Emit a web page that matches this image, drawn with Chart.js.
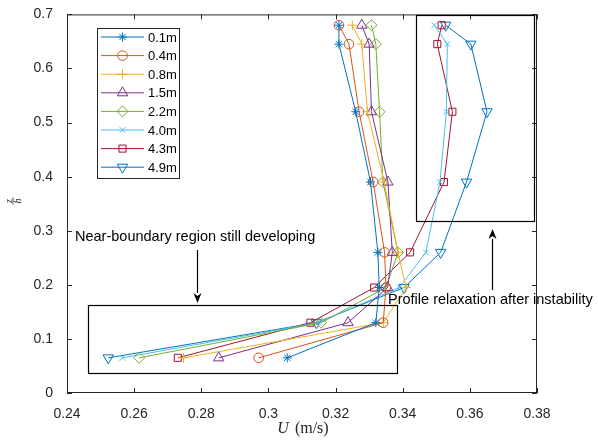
<!DOCTYPE html>
<html>
<head>
<meta charset="utf-8">
<script src="https://cdn.jsdelivr.net/npm/chart.js@4"></script>
<style>
    body { margin: 0; background: #ffffff; }
    #chart { display: block; }
</style>
</head>
<body>
<canvas id="chart" width="598" height="442"></canvas>
<script>
// Heights z/h at which each profile was measured (bottom to top)
const heights = [0.065, 0.13, 0.195, 0.26, 0.39, 0.52, 0.645, 0.68];

// Streamwise positions (legend entries)
const positions = ['0.1m', '0.4m', '0.8m', '1.5m', '2.2m', '4.0m', '4.3m', '4.9m'];

// Velocity U (m/s), one array per position
const u_0_1 = [0.3056, 0.3320, 0.3330, 0.3326, 0.3304, 0.3260, 0.3210, 0.3210];
const u_0_4 = [0.2971, 0.3342, 0.3350, 0.3346, 0.3312, 0.3270, 0.3240, 0.3210];
const u_0_8 = [0.2747, 0.3342, 0.3410, 0.3386, 0.3345, 0.3295, 0.3278, 0.3250];
const u_1_5 = [0.2852, 0.3237, 0.3355, 0.3369, 0.3356, 0.3307, 0.3300, 0.3278];
const u_2_2 = [0.2615, 0.3157, 0.3350, 0.3386, 0.3341, 0.3331, 0.3320, 0.3307];
const u_4_0 = [0.2565, 0.3148, 0.3390, 0.3469, 0.3511, 0.3530, 0.3533, 0.3494];
const u_4_3 = [0.2730, 0.3125, 0.3315, 0.3422, 0.3523, 0.3548, 0.3503, 0.3516];
const u_4_9 = [0.2523, 0.3143, 0.3404, 0.3513, 0.3590, 0.3651, 0.3603, 0.3528];

const xTicks = [0.24, 0.26, 0.28, 0.30, 0.32, 0.34, 0.36, 0.38];
const xTickLabels = ['0.24', '0.26', '0.28', '0.3', '0.32', '0.34', '0.36', '0.38'];
const yTicks = [0, 0.1, 0.2, 0.3, 0.4, 0.5, 0.6, 0.7];
const yTickLabels = ['0', '0.1', '0.2', '0.3', '0.4', '0.5', '0.6', '0.7'];

const annotationLeft = 'Near-boundary region still developing';
const annotationRight = 'Profile relaxation after instability';

// MATLAB default colour order and marker per series
const colors = ['#0072BD', '#D95319', '#EDB120', '#7E2F8E', '#77AC30', '#4DBEEE', '#A2142F', '#0072BD'];
const markers = [
    { style: 'star', radius: 4.5, rotation: 0 },
    { style: 'circle', radius: 4.8, rotation: 0 },
    { style: 'cross', radius: 5, rotation: 0 },
    { style: 'triangle', radius: 6, rotation: 0 },
    { style: 'rectRot', radius: 5.5, rotation: 0 },
    { style: 'crossRot', radius: 4, rotation: 0 },
    { style: 'rect', radius: 5, rotation: 0 },
    { style: 'triangle', radius: 6, rotation: 180 }
];
const series = [u_0_1, u_0_4, u_0_8, u_1_5, u_2_2, u_4_0, u_4_3, u_4_9];

const axisColor = '#262626';
const sansFont = '"Liberation Sans", Arial, sans-serif';
const serifFont = '"Liberation Serif", "Times New Roman", serif';

const datasets = series.map((values, i) => ({
    label: positions[i],
    data: values.map((u, k) => ({ x: u, y: heights[k] })),
    showLine: true,
    borderColor: colors[i],
    borderWidth: 1,
    backgroundColor: 'transparent',
    pointStyle: markers[i].style,
    pointRadius: markers[i].radius,
    pointRotation: markers[i].rotation,
    pointBorderColor: colors[i],
    pointBackgroundColor: 'transparent',
    pointBorderWidth: 1,
    tension: 0
}));

function drawMarker(ctx, m, color, x, y) {
    ctx.save();
    ctx.strokeStyle = color;
    ctx.fillStyle = 'transparent';
    ctx.lineWidth = 1;
    Chart.helpers.drawPoint(ctx, { pointStyle: m.style, radius: m.radius, rotation: m.rotation, borderWidth: 1 }, x, y);
    ctx.restore();
}

function drawArrow(ctx, x, y1, y2) {
    // line from y1 to y2 with a filled head at y2
    const dir = y2 > y1 ? 1 : -1;
    const headLen = 10, headHalf = 4;
    ctx.save();
    ctx.strokeStyle = '#000000';
    ctx.fillStyle = '#000000';
    ctx.lineWidth = 1.2;
    ctx.beginPath();
    ctx.moveTo(x, y1);
    ctx.lineTo(x, y2 - dir * headLen);
    ctx.stroke();
    ctx.beginPath();
    ctx.moveTo(x, y2);
    ctx.lineTo(x - headHalf, y2 - dir * headLen);
    ctx.lineTo(x, y2 - dir * headLen * 0.7);
    ctx.lineTo(x + headHalf, y2 - dir * headLen);
    ctx.closePath();
    ctx.fill();
    ctx.restore();
}

const matlabDecor = {
    id: 'matlabDecor',
    afterDraw(chart) {
        const ctx = chart.ctx;
        const area = chart.chartArea;
        const xs = chart.scales.x;
        const ys = chart.scales.y;

        // axes box and inward ticks
        ctx.save();
        ctx.strokeStyle = axisColor;
        ctx.lineWidth = 1;
        ctx.strokeRect(area.left + 0.5, area.top + 0.5, area.right - area.left - 1, area.bottom - area.top - 1);
        ctx.beginPath();
        xTicks.forEach(v => {
            const px = Math.round(xs.getPixelForValue(v)) + 0.5;
            ctx.moveTo(px, area.bottom); ctx.lineTo(px, area.bottom - 5);
            ctx.moveTo(px, area.top); ctx.lineTo(px, area.top + 5);
        });
        yTicks.forEach(v => {
            const py = Math.round(ys.getPixelForValue(v)) + 0.5;
            ctx.moveTo(area.left, py); ctx.lineTo(area.left + 5, py);
            ctx.moveTo(area.right, py); ctx.lineTo(area.right - 5, py);
        });
        ctx.stroke();
        ctx.restore();

        // x-axis title: italic U followed by (m/s)
        ctx.save();
        ctx.fillStyle = axisColor;
        ctx.textBaseline = 'alphabetic';
        ctx.font = 'italic 16px ' + serifFont;
        const uW = ctx.measureText('U').width;
        ctx.font = '16px ' + serifFont;
        const restW = ctx.measureText(' (m/s)').width;
        const startX = (area.left + area.right) / 2 - (uW + restW) / 2;
        ctx.font = 'italic 16px ' + serifFont;
        ctx.fillText('U', startX, 433);
        ctx.font = '16px ' + serifFont;
        ctx.fillText(' (m/s)', startX + uW + 2, 433);
        ctx.restore();

        // y-axis title: z/h fraction, rotated
        ctx.save();
        ctx.translate(13, 201);
        ctx.rotate(-Math.PI / 2);
        ctx.fillStyle = axisColor;
        ctx.strokeStyle = axisColor;
        ctx.font = 'italic 10px ' + serifFont;
        ctx.textAlign = 'center';
        ctx.textBaseline = 'alphabetic';
        ctx.fillText('z', 0, -1.5);
        ctx.fillText('h', 0, 8);
        ctx.lineWidth = 0.8;
        ctx.beginPath();
        ctx.moveTo(-3.5, 0); ctx.lineTo(3.5, 0);
        ctx.stroke();
        ctx.restore();

        // annotation boxes
        ctx.save();
        ctx.strokeStyle = '#000000';
        ctx.lineWidth = 1.2;
        ctx.strokeRect(88.5, 305.5, 309, 68);
        ctx.strokeRect(416.5, 15.5, 118, 206);
        ctx.restore();

        // annotation texts and arrows
        ctx.save();
        ctx.fillStyle = '#000000';
        ctx.font = '14.5px ' + sansFont;
        ctx.textBaseline = 'middle';
        ctx.fillText(annotationLeft, 75, 237);
        ctx.fillText(annotationRight, 388, 300);
        ctx.restore();
        drawArrow(ctx, 197.5, 250, 303);
        drawArrow(ctx, 492.5, 290, 229);

        // legend
        const lx = 97, ly = 28, lw = 82, lh = 150;
        ctx.save();
        ctx.fillStyle = '#ffffff';
        ctx.fillRect(lx, ly, lw, lh);
        ctx.strokeStyle = axisColor;
        ctx.lineWidth = 1;
        ctx.strokeRect(lx + 0.5, ly + 0.5, lw, lh);
        ctx.font = '13px ' + sansFont;
        ctx.textBaseline = 'middle';
        positions.forEach((name, i) => {
            const y = 37 + i * 18.6;
            ctx.strokeStyle = colors[i];
            ctx.lineWidth = 1;
            ctx.beginPath();
            ctx.moveTo(101, y); ctx.lineTo(144, y);
            ctx.stroke();
            drawMarker(ctx, markers[i], colors[i], 122.5, y);
            ctx.fillStyle = '#000000';
            ctx.fillText(name, 148, y + 1);
        });
        ctx.restore();
    }
};

new Chart(document.getElementById('chart'), {
    type: 'scatter',
    data: { datasets: datasets },
    plugins: [matlabDecor],
    options: {
        responsive: false,
        animation: false,
        devicePixelRatio: 1,
        layout: { padding: { left: 0, top: 12, right: 61, bottom: 0 } },
        plugins: {
            legend: { display: false },
            tooltip: { enabled: false }
        },
        scales: {
            x: {
                type: 'linear',
                min: 0.24,
                max: 0.38,
                grid: { display: false },
                border: { display: false },
                afterBuildTicks: axis => { axis.ticks = xTicks.map(v => ({ value: v })); },
                afterFit: scale => { scale.height = 49; },
                ticks: {
                    padding: 5,
                    color: axisColor,
                    font: { family: sansFont, size: 14 },
                    maxRotation: 0,
                    callback: (v, i) => xTickLabels[i]
                }
            },
            y: {
                type: 'linear',
                min: 0,
                max: 0.7,
                grid: { display: false },
                border: { display: false },
                afterBuildTicks: axis => { axis.ticks = yTicks.map(v => ({ value: v })); },
                afterFit: scale => { scale.width = 67; },
                ticks: {
                    padding: 6,
                    color: axisColor,
                    font: { family: sansFont, size: 14 },
                    callback: (v, i) => yTickLabels[i]
                }
            }
        }
    }
});
</script>
</body>
</html>
